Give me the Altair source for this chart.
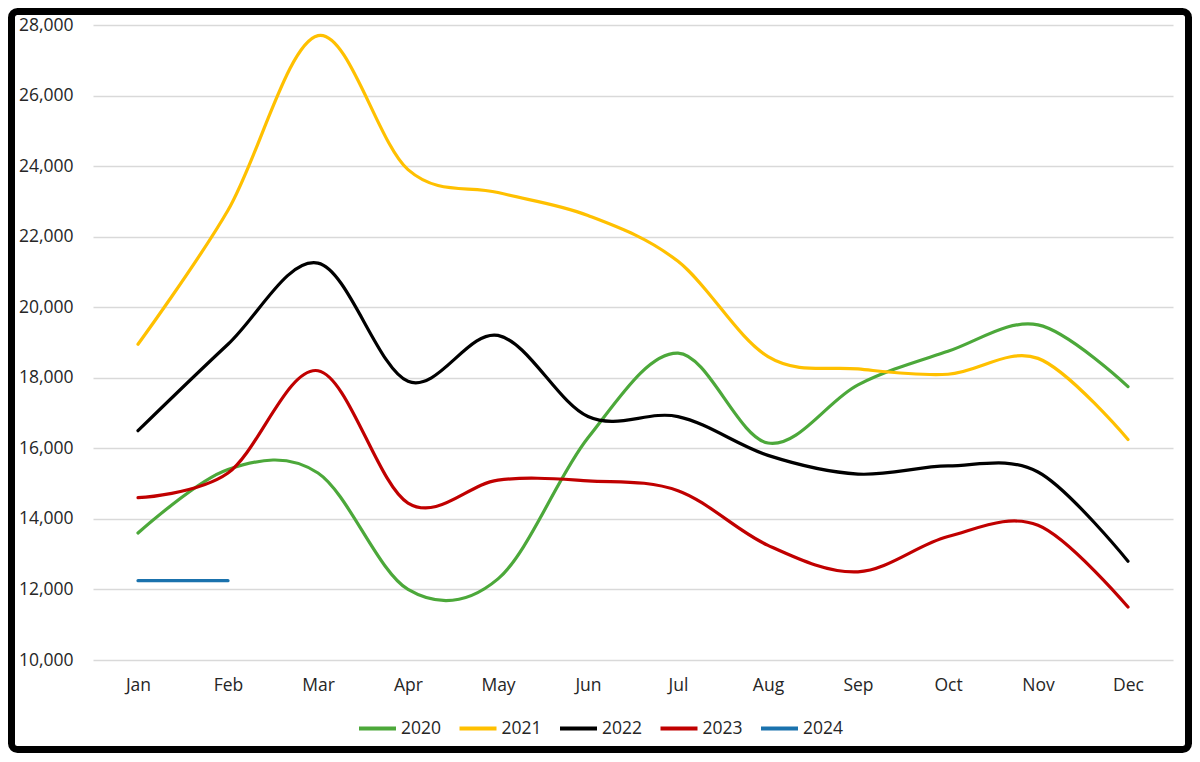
import altair as alt
import pandas as pd

months = ["Jan", "Feb", "Mar", "Apr", "May", "Jun", "Jul", "Aug", "Sep", "Oct", "Nov", "Dec"]
years = ["2020", "2021", "2022", "2023", "2024"]
v2020 = [13600, 15400, 15300, 12000, 12300, 16300, 18700, 16150, 17800, 18750, 19500, 17750]
v2021 = [18950, 22750, 27700, 23900, 23250, 22600, 21300, 18600, 18250, 18100, 18550, 16250]
v2022 = [16500, 18950, 21250, 17900, 19200, 16900, 16900, 15800, 15270, 15500, 15330, 12800]
v2023 = [14600, 15300, 18200, 14450, 15100, 15080, 14800, 13250, 12500, 13500, 13820, 11500]
v2024 = [12250, 12250]
colors = ["#4ca83a", "#ffc000", "#000000", "#c00000", "#1a72ad"]
y_ticks = [10000, 12000, 14000, 16000, 18000, 20000, 22000, 24000, 26000, 28000]

rows = []
for yr, vals in zip(years, [v2020, v2021, v2022, v2023, v2024]):
    for m, v in zip(months, vals):
        rows.append({"Month": m, "Year": yr, "Value": v})
df = pd.DataFrame(rows)

W, H = 1080, 635
PL, PT, PR, PB = 85, 17, 19, 93

lines = alt.Chart(df).mark_line(interpolate="cardinal", tension=0, strokeWidth=3.2, strokeCap="round").encode(
    x=alt.X("Month:N", sort=months, scale=alt.Scale(domain=months, paddingOuter=0.5, paddingInner=0),
            axis=alt.Axis(title=None, labelAngle=0, ticks=False, domain=False, grid=False,
                          labelPadding=16, labelFontSize=17.5, labelFont="Open Sans", labelColor="#262626")),
    y=alt.Y("Value:Q", scale=alt.Scale(domain=[10000, 28000], nice=False, zero=False),
            axis=alt.Axis(title=None, values=y_ticks, format=",.0f", ticks=False, domain=False,
                          gridColor="#d9d9d9", gridWidth=1.3, labelPadding=20,
                          labelFontSize=17.5, labelFont="Open Sans", labelColor="#262626")),
    color=alt.Color("Year:N", scale=alt.Scale(domain=years, range=colors),
                    legend=alt.Legend(title=None, orient="none", direction="horizontal",
                                      legendX=264, legendY=683, symbolType="stroke",
                                      symbolSize=1369, symbolStrokeWidth=4, labelOffset=3,
                                      columnPadding=9.5, labelFontSize=17.5, labelFont="Open Sans",
                                      labelColor="#262626")),
)

border = alt.Chart(pd.DataFrame({"a": [0]})).mark_rect(
    fill=None, stroke="#000000", strokeWidth=7, cornerRadius=6, clip=False
).encode(
    x=alt.value(-PL + 3.5), x2=alt.value(W + PR - 3.5),
    y=alt.value(-PT + 3.5), y2=alt.value(H + PB - 3.5),
)

chart = alt.layer(lines, border).properties(
    width=W, height=H,
    background="white",
    autosize=alt.AutoSizeParams(type="none"),
    padding={"left": PL, "top": PT, "right": PR, "bottom": PB},
).configure_view(strokeWidth=0, stroke="transparent")

chart.save("out.html", embed_options={"renderer": "svg", "actions": False})
